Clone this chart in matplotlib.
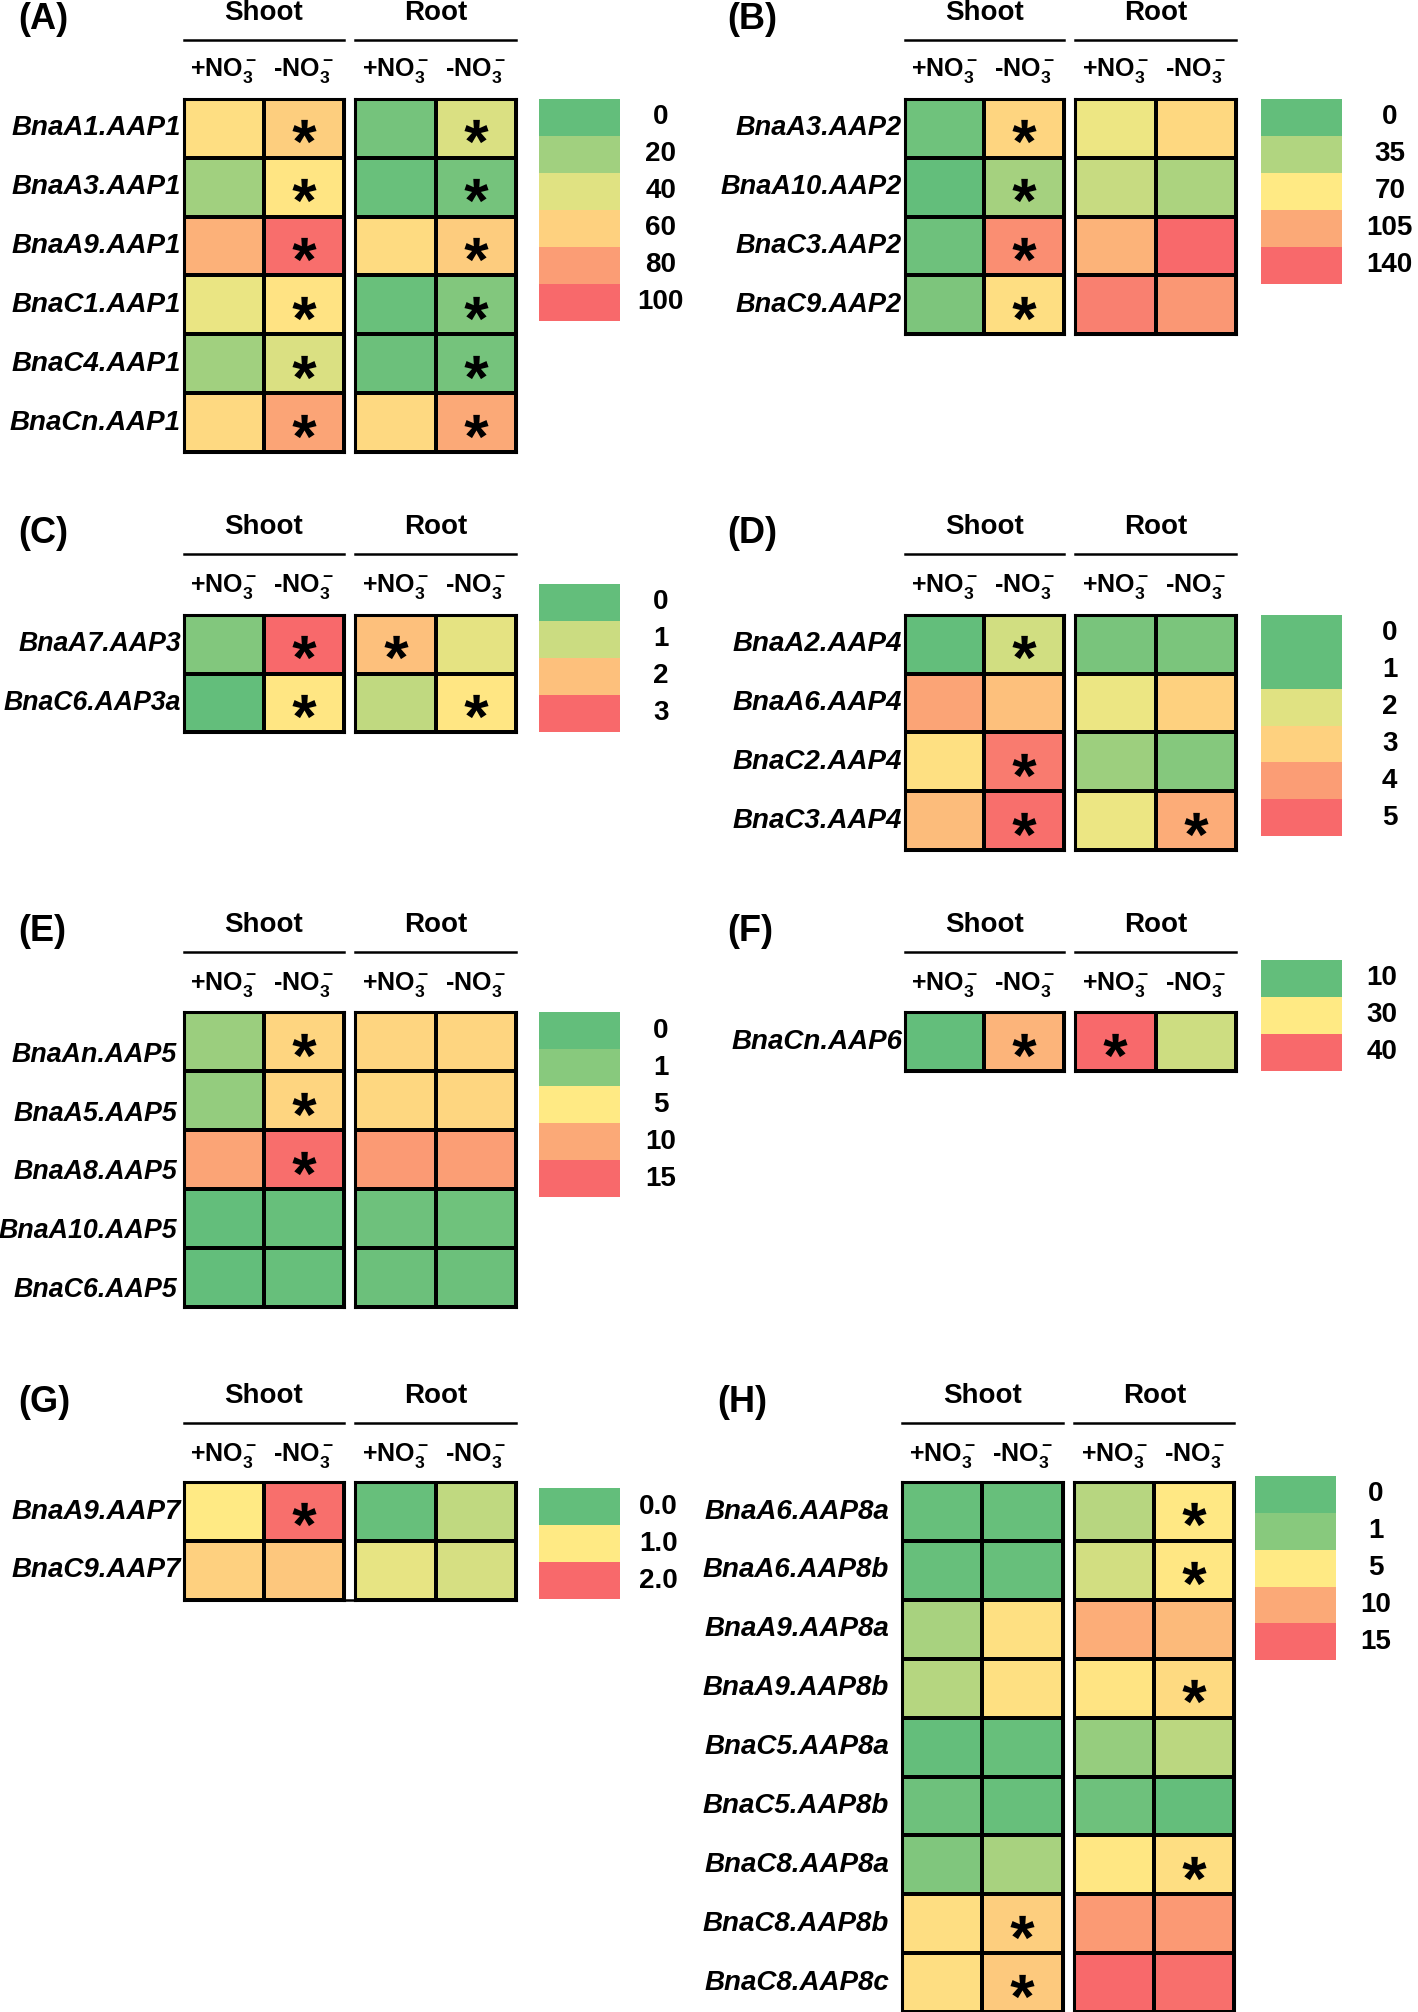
import numpy as np
import matplotlib
matplotlib.use('Agg')
import matplotlib.pyplot as plt
from matplotlib.colors import LinearSegmentedColormap, FuncNorm
from matplotlib.textpath import TextPath
from matplotlib.font_manager import FontProperties
from matplotlib.path import Path
from matplotlib.lines import Line2D

plt.rcParams['font.family'] = ['Liberation Sans', 'DejaVu Sans']
plt.rcParams['mathtext.fontset'] = 'custom'
plt.rcParams['mathtext.rm'] = 'Liberation Sans:bold'
plt.rcParams['mathtext.it'] = 'Liberation Sans:bold:italic'
plt.rcParams['mathtext.bf'] = 'Liberation Sans:bold'

# ---------------- data ----------------
conditions = ['+NO$_3^-$', '-NO$_3^-$']
tissues = ['Shoot', 'Root']

A_genes = ['BnaA1.AAP1', 'BnaA3.AAP1', 'BnaA9.AAP1', 'BnaC1.AAP1', 'BnaC4.AAP1', 'BnaCn.AAP1']
A_shoot = [[55, 61], [20, 52], [72, 98], [43, 53], [20, 38], [57, 77]]
A_root = [[6, 38], [2, 6], [56, 62], [2, 10], [3, 6], [57, 75]]
A_sig = [[0, 1, 0, 1]] * 6
A_ticks = [0, 20, 40, 60, 80, 100]
A_ticklabels = ['0', '20', '40', '60', '80', '100']

B_genes = ['BnaA3.AAP2', 'BnaA10.AAP2', 'BnaC3.AAP2', 'BnaC9.AAP2']
B_shoot = [[6, 82], [0, 30], [5, 120], [12, 77]]
B_root = [[62, 80], [45, 33], [100, 140], [127, 115]]
B_sig = [[0, 1, 0, 0]] * 4
B_ticks = [0, 35, 70, 105, 140]
B_ticklabels = ['0', '35', '70', '105', '140']

C_genes = ['BnaA7.AAP3', 'BnaC6.AAP3a']
C_shoot = [[0.3, 3.0], [0.0, 1.55]]
C_root = [[2.0, 1.25], [0.9, 1.55]]
C_sig = [[0, 1, 1, 0], [0, 1, 0, 1]]
C_ticks = [0, 1, 2, 3]
C_ticklabels = ['0', '1', '2', '3']

D_genes = ['BnaA2.AAP4', 'BnaA6.AAP4', 'BnaC2.AAP4', 'BnaC3.AAP4']
D_shoot = [[0.5, 1.88], [3.86, 3.33], [2.7, 4.64], [3.4, 4.87]]
D_root = [[1.18, 1.2], [2.2, 3.0], [1.46, 1.28], [2.2, 3.7]]
D_sig = [[0, 1, 0, 0], [0, 0, 0, 0], [0, 1, 0, 0], [0, 1, 0, 1]]
D_ticks = [0, 1, 2, 3, 4, 5]
D_ticklabels = ['0', '1', '2', '3', '4', '5']

E_genes = ['BnaAn.AAP5', 'BnaA5.AAP5', 'BnaA8.AAP5', 'BnaA10.AAP5', 'BnaC6.AAP5']
E_shoot = [[1.63, 6.7], [1.4, 6.7], [10.4, 14.6], [0.0, 0.1], [0.0, 0.1]]
E_root = [[6.7, 6.7], [6.5, 6.6], [11.2, 10.9], [0.3, 0.35], [0.25, 0.25]]
E_sig = [[0, 1, 0, 0], [0, 1, 0, 0], [0, 1, 0, 0], [0, 0, 0, 0], [0, 0, 0, 0]]
E_ticks = [0, 1, 5, 10, 15]
E_ticklabels = ['0', '1', '5', '10', '15']

F_genes = ['BnaCn.AAP6']
F_shoot = [[10, 34.2]]
F_root = [[40, 23.6]]
F_sig = [[0, 1, 1, 0]]
F_ticks = [10, 30, 40]
F_ticklabels = ['10', '30', '40']

G_genes = ['BnaA9.AAP7', 'BnaC9.AAP7']
G_shoot = [[1.0, 1.95], [1.21, 1.28]]
G_root = [[0.03, 0.6], [0.85, 0.74]]
G_sig = [[0, 1, 0, 0], [0, 0, 0, 0]]
G_ticks = [0.0, 1.0, 2.0]
G_ticklabels = ['0.0', '1.0', '2.0']

H_genes = ['BnaA6.AAP8a', 'BnaA6.AAP8b', 'BnaA9.AAP8a', 'BnaA9.AAP8b', 'BnaC5.AAP8a',
           'BnaC5.AAP8b', 'BnaC8.AAP8a', 'BnaC8.AAP8b', 'BnaC8.AAP8c']
H_shoot = [[0.1, 0.1], [0.1, 0.1], [2.05, 5.8], [2.5, 5.8], [0.05, 0.1],
           [0.3, 0.1], [0.8, 2.05], [6.0, 7.2], [6.0, 7.6]]
H_root = [[2.6, 5.2], [3.5, 5.3], [9.7, 8.8], [5.5, 6.3], [1.5, 2.7],
          [0.3, 0.05], [5.3, 6.0], [11.2, 11.3], [15.0, 14.5]]
H_sig = [[0, 0, 0, 1], [0, 0, 0, 1], [0, 0, 0, 0], [0, 0, 0, 1], [0, 0, 0, 0],
         [0, 0, 0, 0], [0, 0, 0, 1], [0, 1, 0, 0], [0, 1, 0, 0]]
H_ticks = [0, 1, 5, 10, 15]
H_ticklabels = ['0', '1', '5', '10', '15']

# colour position of each legend level along the green-yellow-red scale
A_pos = [0, 0.2, 0.4, 0.6, 0.8, 1.0]
B_pos = [0, 0.25, 0.5, 0.75, 1.0]
C_pos = [0, 1 / 3, 2 / 3, 1.0]
D_pos = [0, 0, 0.4, 0.6, 0.8, 1.0]
E_pos = [0, 0.12, 0.5, 0.75, 1.0]
F_pos = [0, 0.5, 1.0]
G_pos = [0, 0.5, 1.0]
H_pos = [0, 0.12, 0.5, 0.75, 1.0]

# ---------------- styling ----------------
cmap = LinearSegmentedColormap.from_list('excel3', ['#63BE7B', '#FFEB84', '#F8696B'])

W, H = 1105.0, 1568.0
fig = plt.figure(figsize=(14.18, 20.12), dpi=100)


def fx(x):
    return x / W


def fy(y):
    return 1 - y / H


def add_ax(x0, x1, y0, y1):
    return fig.add_axes([fx(x0), fy(y1), (x1 - x0) / W, (y1 - y0) / H])


def make_norm(ticks, pos):
    t = np.asarray(ticks, float)
    p = np.asarray(pos, float)
    fwd = lambda v: np.interp(v, t, p)
    inv = lambda q: np.interp(q, p, t)
    return FuncNorm((fwd, inv), vmin=t[0], vmax=t[-1])


# asterisk marker built from the font glyph, centred on its ink box
_tp = TextPath((0, 0), '*', size=1, prop=FontProperties(family='Liberation Sans', weight='bold'))
_polys = [np.asarray(p) for p in _tp.to_polygons()]
_allv = np.concatenate(_polys)
_c = (_allv.min(axis=0) + _allv.max(axis=0)) / 2
STAR = Path.make_compound_path(*[Path(p - _c, closed=True) for p in _polys])

ROW_H = 45.9
BOX_H = 28.8
FS = 20


def panel(letter, genes, shoot, root, sig, ticks, ticklabels, pos, g):
    n = len(genes)
    norm = make_norm(ticks, pos)
    top = g['top']
    bot = top + n * ROW_H
    sig = np.asarray(sig)
    for (x0, x1), vals, cols, name in [(g['sx'], shoot, (0, 1), tissues[0]),
                                       (g['rx'], root, (2, 3), tissues[1])]:
        ax = add_ax(x0, x1, top, bot)
        ax.pcolormesh(np.asarray(vals, float), cmap=cmap, norm=norm,
                      edgecolors='black', linewidth=1.6)
        ax.set_xlim(0, 2)
        ax.set_ylim(n, 0)
        ax.set_xticks([])
        ax.set_yticks([])
        for sp in ax.spines.values():
            sp.set_linewidth(2.2)
        rr, cc = np.nonzero(sig[:, cols])
        ax.scatter(cc + 0.5, rr + 0.55, marker=STAR, s=300, c='black',
                   linewidths=0, zorder=5, clip_on=False)
        # header
        fig.text(fx((x0 + x1) / 2), fy(g['hy']), name, ha='center', va='center',
                 fontsize=FS, fontweight='bold')
        fig.add_artist(Line2D([fx(x0), fx(x1)], [fy(g['ly']), fy(g['ly'])],
                              color='black', linewidth=1.8))
        cw = (x1 - x0) / 2
        for k, cond in enumerate(conditions):
            fig.text(fx(x0 + cw * (k + 0.5)), fy(g['suby']), cond, ha='center',
                     va='center', fontsize=18, fontweight='bold')
    if g.get('join'):
        fig.add_artist(Line2D([fx(g['sx'][1]), fx(g['rx'][0])], [fy(bot), fy(bot)],
                              color='black', linewidth=1.8))
    for i, gene in enumerate(genes):
        fig.text(fx(g['lr']), fy(top + (i + 0.5) * ROW_H + g.get('dy', 0)), gene,
                 ha='right', va='center', fontsize=g.get('gfs', FS), fontweight='bold',
                 fontstyle='italic')
    # legend
    m = len(ticks)
    lax = add_ax(g['lx'][0], g['lx'][1], g['ltop'], g['ltop'] + m * BOX_H)
    lax.pcolormesh(np.asarray(ticks, float)[:, None], cmap=cmap, norm=norm)
    lax.set_ylim(m, 0)
    lax.axis('off')
    for j, lab in enumerate(ticklabels):
        fig.text(fx(g['llx']), fy(g['ltop'] + (j + 0.5) * BOX_H), lab,
                 ha='center', va='center', fontsize=FS, fontweight='bold')
    fig.text(fx(g['letx']), fy(g['hy'] + 5), letter, ha='left', va='center',
             fontsize=26, fontweight='bold')


LEFT = dict(letx=14, lr=141, sx=(143, 268), rx=(277, 402), lx=(420, 483), llx=515)
RIGHT = dict(letx=567, lr=703, sx=(705, 829), rx=(838, 963), lx=(983, 1046), llx=1083)
RIGHT_H = dict(letx=559, lr=693, sx=(703, 828), rx=(837, 962), lx=(978, 1041), llx=1072)

panel('(A)', A_genes, A_shoot, A_root, A_sig, A_ticks, A_ticklabels, A_pos,
      dict(LEFT, hy=10, ly=31, suby=55, top=77, ltop=77))
panel('(B)', B_genes, B_shoot, B_root, B_sig, B_ticks, B_ticklabels, B_pos,
      dict(RIGHT, hy=10, ly=31, suby=55, top=77, ltop=77, gfs=19.5))
panel('(C)', C_genes, C_shoot, C_root, C_sig, C_ticks, C_ticklabels, C_pos,
      dict(LEFT, hy=411, ly=432, suby=457, top=479, ltop=455, gfs=19.2))
panel('(D)', D_genes, D_shoot, D_root, D_sig, D_ticks, D_ticklabels, D_pos,
      dict(RIGHT, hy=411, ly=432, suby=457, top=479, ltop=479))
panel('(E)', E_genes, E_shoot, E_root, E_sig, E_ticks, E_ticklabels, E_pos,
      dict(LEFT, lr=138, hy=721, ly=742, suby=767, top=789, ltop=789, dy=10, gfs=19.3))
panel('(F)', F_genes, F_shoot, F_root, F_sig, F_ticks, F_ticklabels, F_pos,
      dict(RIGHT, llx=1077, hy=721, ly=742, suby=767, top=789, ltop=748))
panel('(G)', G_genes, G_shoot, G_root, G_sig, G_ticks, G_ticklabels, G_pos,
      dict(LEFT, llx=513, hy=1088, ly=1109, suby=1134, top=1155, ltop=1160, join=True))
panel('(H)', H_genes, H_shoot, H_root, H_sig, H_ticks, H_ticklabels, H_pos,
      dict(RIGHT_H, hy=1088, ly=1109, suby=1134, top=1155, ltop=1150))

fig.savefig('out.png', dpi=100, facecolor='white')
